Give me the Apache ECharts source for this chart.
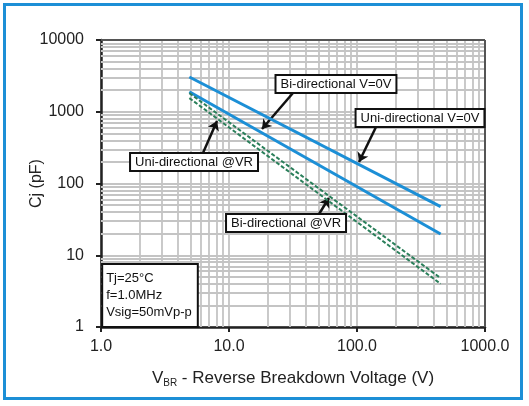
<!DOCTYPE html>
<html>
<head>
<meta charset="utf-8">
<script src="https://cdn.jsdelivr.net/npm/echarts@6/dist/echarts.min.js"></script>
<style>
  html, body { margin: 0; padding: 0; background: #fff; }
  #chart { width: 529px; height: 406px; }
</style>
</head>
<body>
<div id="chart"></div>
<script>
// Breakdown voltage (V) at both ends of every capacitance curve
const vbr = [4.9, 450];
// Junction capacitance (pF) at those voltages
const uniZeroBias = [3050, 47.5];
const biZeroBias = [1900, 19.8];
const uniAtVr = [1820, 4.8];
const biAtVr = [1550, 4.0];

// Axis tick labels, one per decade
const xTickLabels = ['1.0', '10.0', '100.0', '1000.0'];
const yTickLabels = ['1', '10', '100', '1000', '10000'];

// Minor grid positions inside each decade
const xMinorGrid = [2, 3, 4, 5, 6, 7, 8, 9, 20, 30, 40, 50, 60, 70, 80, 90, 200, 300, 400, 500, 600, 700, 800, 900];
const yMinorGrid = [2, 3, 4, 5, 6, 7, 8, 9, 20, 30, 40, 50, 60, 70, 80, 90, 200, 300, 400, 500, 600, 700, 800, 900,
  2000, 3000, 4000, 5000, 6000, 7000, 8000, 9000];

// Callout labels, their box centres and arrows (from -> to), in data units
const calloutTexts = ['Bi-directional V=0V', 'Uni-directional V=0V', 'Uni-directional @VR', 'Bi-directional @VR'];
const calloutBoxes = [[68.5, 2437], [310.6, 818], [5.33, 199], [27.9, 28.1]];
const calloutArrows = [
  [[31.6, 1825], [18.1, 575]],
  [[140.7, 613], [103.7, 199]],
  [[6.26, 266], [8.06, 743]],
  [[50.5, 37.6], [60.4, 62.8]]
];

// Test conditions box, top-left corner in data units
const conditions = ['Tj=25°C', 'f=1.0MHz', 'Vsig=50mVp-p'];
const conditionsAnchor = [1.04, 7.3];

const FONT = '"Liberation Sans", Arial, sans-serif';
const BLUE = '#1c8fd6';
const GREEN = '#2a7f5a';
const GRID_GREY = '#c4c4c4';

function pairs(xs, ys) { return xs.map((x, i) => [x, ys[i]]); }
function decadeIndex(v) { return Math.round(Math.log10(v)); }

const chart = echarts.init(document.getElementById('chart'), null, { renderer: 'canvas' });

const option = {
  animation: false,
  backgroundColor: '#fff',
  grid: { left: 101, right: 44, top: 40, bottom: 79 },
  xAxis: {
    type: 'log', logBase: 10, min: 1, max: 1000,
    name: '{v|V}{sub|BR}{v| - Reverse Breakdown Voltage (V)}',
    nameLocation: 'middle', nameGap: 42,
    nameTextStyle: {
      rich: {
        v: { fontFamily: FONT, fontSize: 17, color: '#222' },
        sub: { fontFamily: FONT, fontSize: 10, color: '#222', verticalAlign: 'bottom', padding: [9, 0, 0, 0] }
      }
    },
    axisLine: { show: true, lineStyle: { color: '#222', width: 2.5 } },
    axisTick: { show: true, inside: false, length: 5, lineStyle: { color: '#222', width: 2 } },
    axisLabel: {
      margin: 12, fontFamily: FONT, fontSize: 16, color: '#222',
      formatter: v => xTickLabels[decadeIndex(v)]
    },
    splitLine: { show: true, lineStyle: { color: GRID_GREY, width: 1.8 } }
  },
  yAxis: {
    type: 'log', logBase: 10, min: 1, max: 10000,
    name: 'Cj (pF)', nameLocation: 'middle', nameGap: 56, nameRotate: 90,
    nameMoveOverlap: false,
    nameTextStyle: { fontFamily: FONT, fontSize: 16, color: '#222' },
    axisLine: { show: true, lineStyle: { color: '#222', width: 2.5 } },
    axisTick: { show: true, inside: false, length: 5, lineStyle: { color: '#222', width: 2 } },
    axisLabel: {
      margin: 17, fontFamily: FONT, fontSize: 16, color: '#222',
      formatter: v => yTickLabels[decadeIndex(v)]
    },
    splitLine: { show: true, lineStyle: { color: GRID_GREY, width: 1.8 } }
  },
  series: [
    {
      // minor log grid
      type: 'line', z: 1, silent: true, showSymbol: false,
      data: [[1, 1]], lineStyle: { width: 0 },
      markLine: {
        silent: true, symbol: ['none', 'none'], label: { show: false },
        lineStyle: { color: GRID_GREY, width: 1.8, type: 'solid' },
        data: xMinorGrid.map(v => ({ xAxis: v })).concat(yMinorGrid.map(v => ({ yAxis: v })))
      }
    },
    {
      name: 'Uni-directional V=0V', type: 'line', z: 5, showSymbol: false,
      data: pairs(vbr, uniZeroBias), lineStyle: { color: BLUE, width: 3 }
    },
    {
      name: 'Bi-directional V=0V', type: 'line', z: 5, showSymbol: false,
      data: pairs(vbr, biZeroBias), lineStyle: { color: BLUE, width: 3 }
    },
    {
      name: 'Uni-directional @VR', type: 'line', z: 5, showSymbol: false,
      data: pairs(vbr, uniAtVr), lineStyle: { color: GREEN, width: 2, type: [4, 2] }
    },
    {
      name: 'Bi-directional @VR', type: 'line', z: 5, showSymbol: false,
      data: pairs(vbr, biAtVr), lineStyle: { color: GREEN, width: 2, type: [4, 2] }
    },
    {
      // callout arrows
      type: 'line', z: 8, silent: true, showSymbol: false,
      data: [[1, 1]], lineStyle: { width: 0 },
      markLine: {
        silent: true, symbol: ['none', 'arrow'], symbolSize: 9, label: { show: false },
        lineStyle: { color: '#111', width: 2.5, type: 'solid' },
        data: calloutArrows.map(a => [{ coord: a[0] }, { coord: a[1] }])
      }
    }
  ]
};

chart.setOption(option);

// Text boxes and the plot frame, placed through the axis scales
const toPx = p => chart.convertToPixel({ gridIndex: 0 }, p);
const topLeft = toPx([1, 10000]);
const bottomRight = toPx([1000, 1]);

const graphics = [
  { type: 'line', z: 60, shape: { x1: topLeft[0], y1: topLeft[1], x2: bottomRight[0], y2: topLeft[1] },
    style: { stroke: '#555', lineWidth: 2 } },
  { type: 'line', z: 60, shape: { x1: bottomRight[0], y1: topLeft[1], x2: bottomRight[0], y2: bottomRight[1] },
    style: { stroke: '#555', lineWidth: 2 } },
  // page frame
  { type: 'rect', z: 60, shape: { x: 4.5, y: 4.5, width: 517, height: 394 },
    style: { fill: 'none', stroke: BLUE, lineWidth: 3 } }
];

calloutTexts.forEach((t, i) => {
  const c = toPx(calloutBoxes[i]);
  graphics.push({
    type: 'text', z: 70, x: c[0], y: c[1],
    style: {
      text: t, font: '13px ' + FONT, fill: '#111',
      align: 'center', verticalAlign: 'middle',
      backgroundColor: '#fff', borderColor: '#111', borderWidth: 2,
      padding: [1, 4], lineHeight: 14
    }
  });
});

const ca = toPx(conditionsAnchor);
graphics.push({
  type: 'text', z: 70, x: ca[0], y: ca[1],
  style: {
    text: conditions.join('\n'), font: '13px ' + FONT, fill: '#111',
    align: 'left', verticalAlign: 'top',
    backgroundColor: '#fff', borderColor: '#111', borderWidth: 2,
    padding: [5, 5, 5, 3], lineHeight: 17
  }
});

chart.setOption({ graphic: graphics });
</script>
</body>
</html>
